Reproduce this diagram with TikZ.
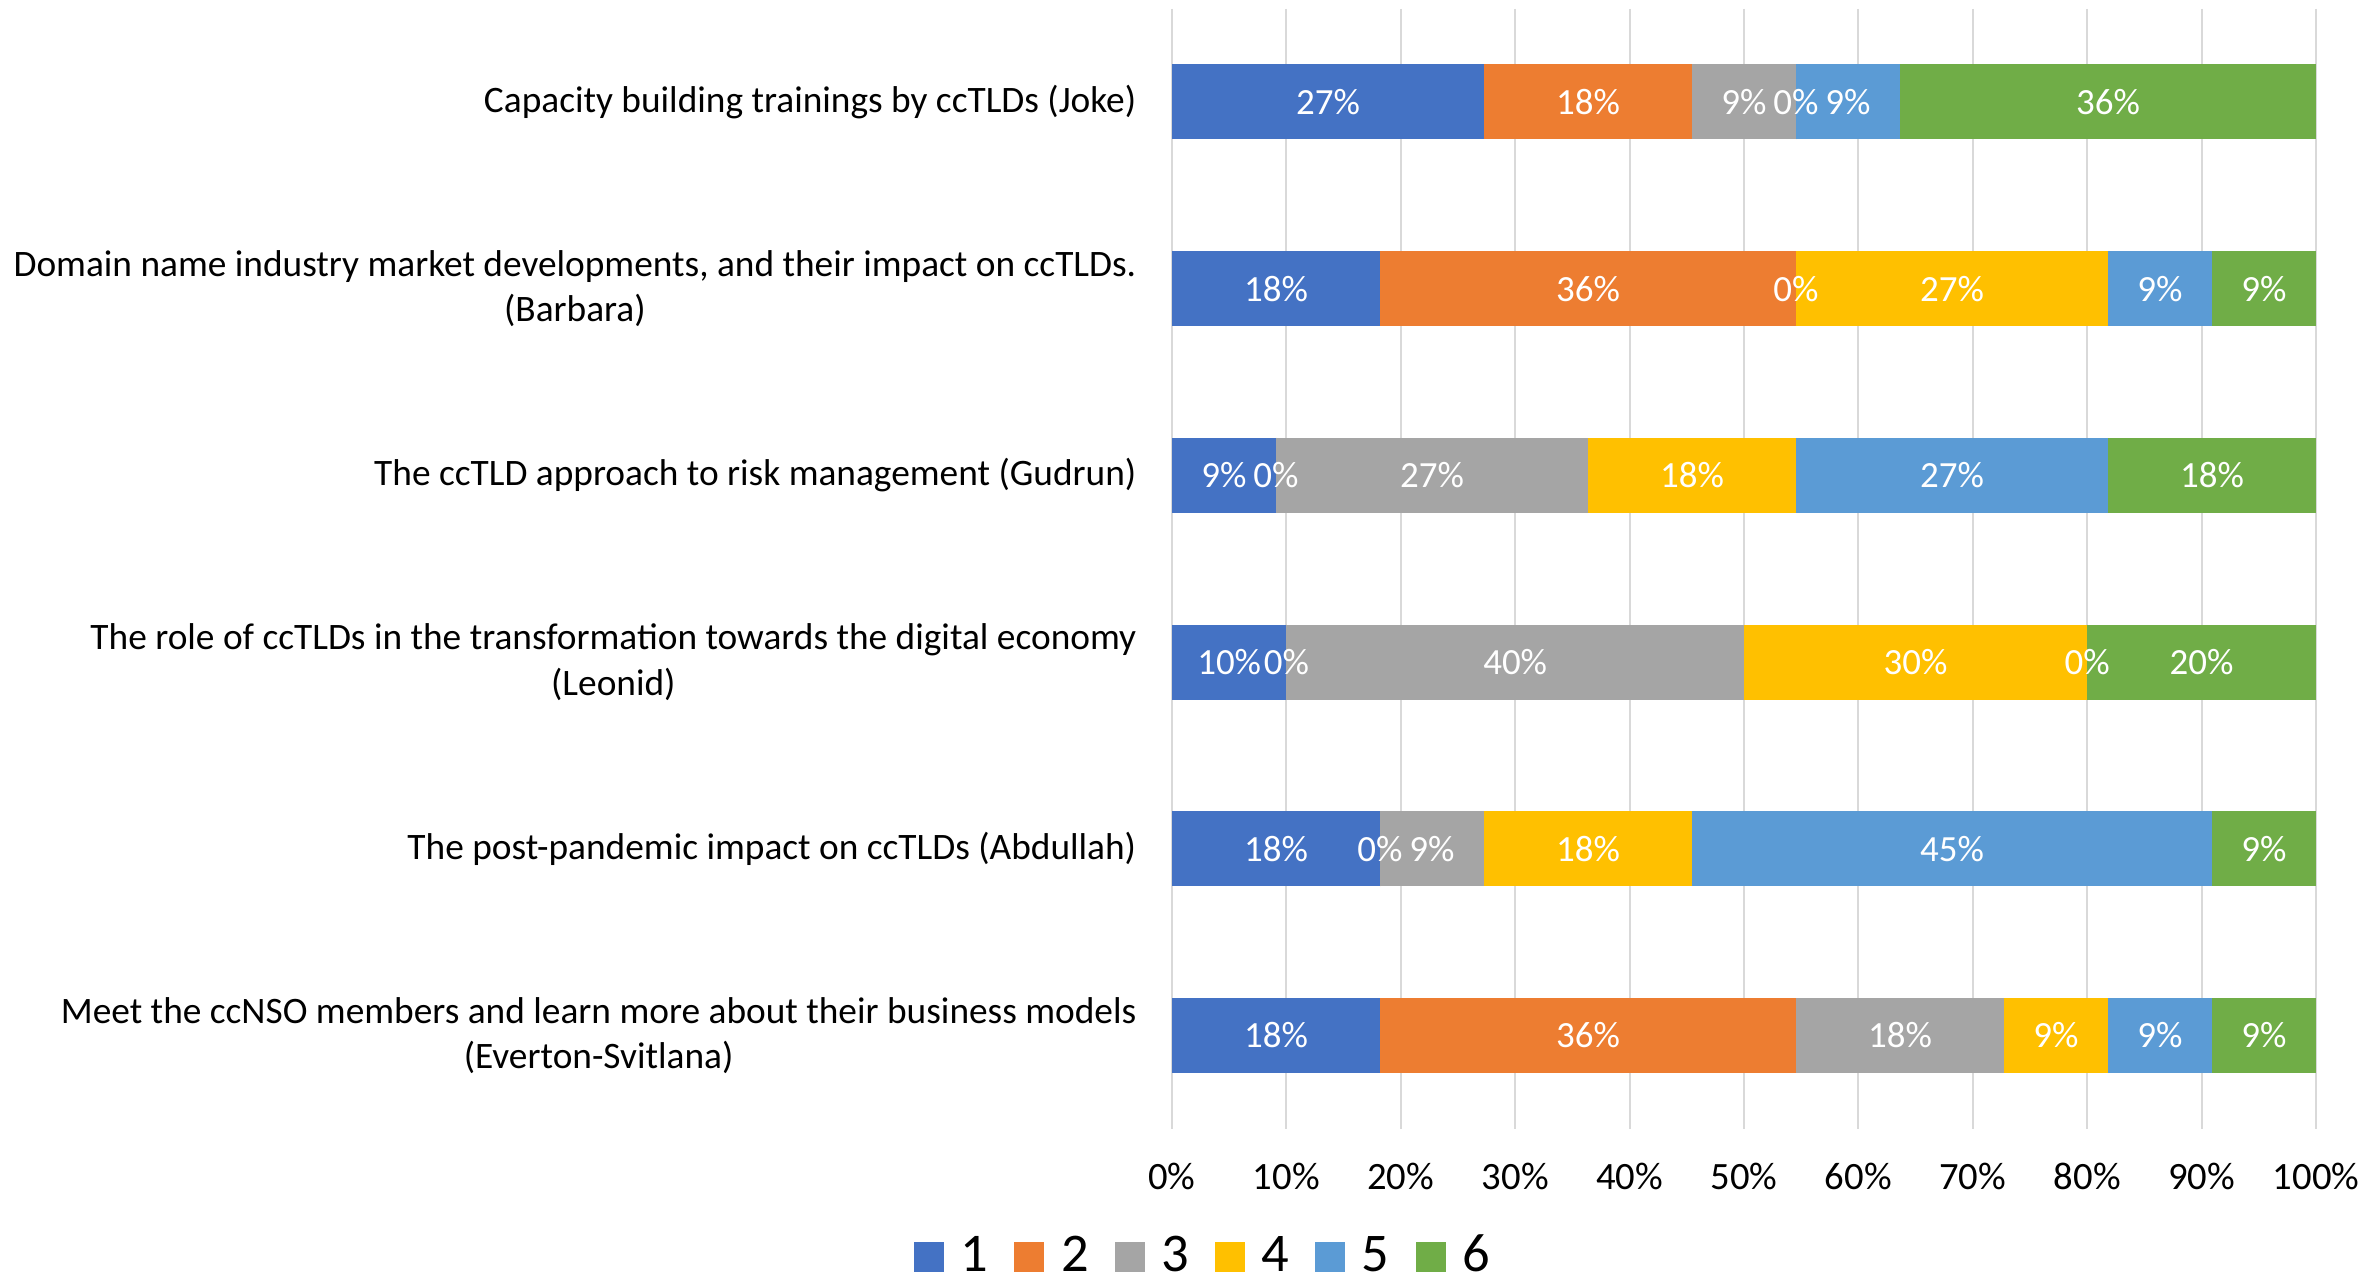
\documentclass[tikz,border=0pt]{standalone}
\usepackage{fontspec}
\setmainfont{Carlito}
\definecolor{c1}{HTML}{4472C4}
\definecolor{c2}{HTML}{ED7D31}
\definecolor{c3}{HTML}{A5A5A5}
\definecolor{c4}{HTML}{FFC000}
\definecolor{c5}{HTML}{5B9BD5}
\definecolor{c6}{HTML}{70AD47}
\definecolor{gridc}{HTML}{D9D9D9}
\begin{document}
\begin{tikzpicture}[x=0.01cm,y=-0.01cm,
  catlabel/.style={anchor=east,align=center,inner sep=0pt,font=\fontsize{10.62}{12.9}\selectfont},
  dlabel/.style={inner sep=0pt,text=white,font=\fontsize{10.5}{12.8}\selectfont},
  axlabel/.style={inner sep=0pt,font=\fontsize{11}{13}\selectfont},
  leglabel/.style={anchor=base west,inner sep=0pt,font=\fontsize{15.5}{18}\selectfont},
  gridline/.style={draw=gridc,line width=0.55pt}]
\useasboundingbox[fill=white] (0,0) rectangle (2359,1279);
\def\xa{1172}
\def\W{1144}
\def\rows{102/11/{3,2,1,0,1,4},288.7/11/{2,4,0,3,1,1},475.4/11/{1,0,3,2,3,2},662/10/{1,0,4,3,0,2},848.8/11/{2,0,1,2,5,1},1035.5/11/{2,4,2,1,1,1}}
% gridlines and axis labels
\foreach \k in {0,...,10}{
  \pgfmathsetmacro\gx{\xa+114.4*\k}
  \coordinate (gt\k) at (\gx,9);
  \coordinate (gb\k) at (\gx,1129);
  \draw[gridline] (gt\k) -- (gb\k);
  \pgfmathtruncatemacro\pv{10*\k}
  \node[axlabel] (ax\k) at (\gx,1176) {\pv\%};
}
% bar segments
\foreach \yc/\tot/\vals [count=\r] in \rows {
  \gdef\cum{0}
  \foreach \v [count=\i] in \vals {
    \pgfmathsetmacro\xs{\xa+\W*\cum/\tot}
    \pgfmathsetmacro\xe{\xa+\W*(\cum+\v)/\tot}
    \fill[c\i] (\xs,\yc-37.5) rectangle (\xe,\yc+37.5);
    \pgfmathsetmacro\newcum{\cum+\v}
    \xdef\cum{\newcum}
  }
}
% data labels (drawn after all segments)
\foreach \yc/\tot/\vals [count=\r] in \rows {
  \gdef\cum{0}
  \foreach \v [count=\i] in \vals {
    \pgfmathsetmacro\xm{\xa+\W*(\cum+\v/2)/\tot}
    \pgfmathtruncatemacro\pct{round(100*\v/\tot)}
    \node[dlabel] (d\r-\i) at (\xm,\yc) {\pct\%};
    \pgfmathsetmacro\newcum{\cum+\v}
    \xdef\cum{\newcum}
  }
}
% category labels
\node[catlabel] (cat1) at (1137,102) {Capacity building trainings by ccTLDs (Joke)};
\node[catlabel] (cat2) at (1137,288.7) {Domain name industry market developments, and their impact on ccTLDs.\\(Barbara)};
\node[catlabel] (cat3) at (1137,475.4) {The ccTLD approach to risk management (Gudrun)};
\node[catlabel] (cat4) at (1137,662) {The role of ccTLDs in the transformation towards the digital economy\\(Leonid)};
\node[catlabel] (cat5) at (1137,848.8) {The post-pandemic impact on ccTLDs (Abdullah)};
\node[catlabel] (cat6) at (1137,1035.5) {Meet the ccNSO members and learn more about their business models\\(Everton-Svitlana)};
% legend
\foreach \k in {1,...,6}{
  \pgfmathsetmacro\lx{914+100.3*(\k-1)}
  \fill[c\k] (\lx,1242) rectangle (\lx+30,1272);
  \node[leglabel] (leg\k) at (\lx+46,1271) {\k};
}
\end{tikzpicture}
\end{document}
